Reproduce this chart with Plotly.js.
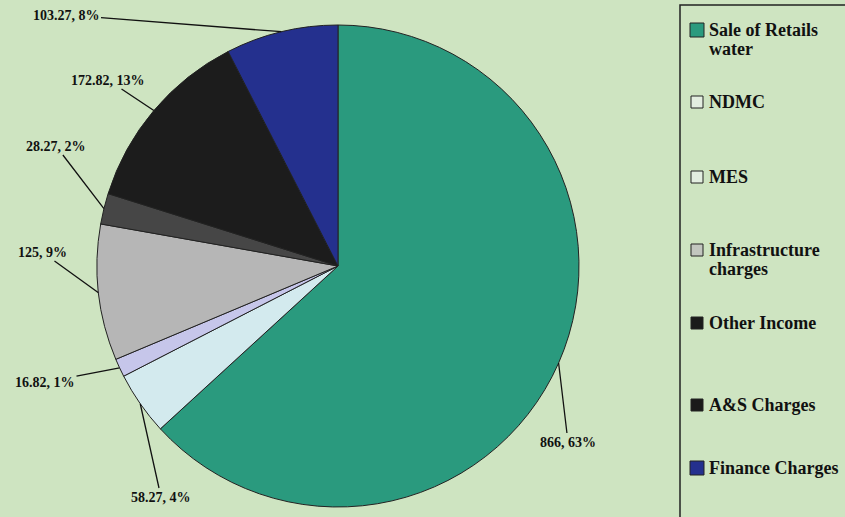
<!DOCTYPE html>
<html>
<head>
<meta charset="utf-8">
<script src="https://cdn.plot.ly/plotly-3.0.1.min.js"></script>
<style>html,body{margin:0;padding:0;background:#cee4c1;}#chart{width:845px;height:517px;}</style>
</head>
<body>
<div id="chart"></div>
<script>
// ---- data ----
const labels = ["Sale of Retails water", "NDMC", "MES", "Infrastructure charges", "Other Income", "A&S Charges", "Finance Charges"];
const legendLines = [["Sale of Retails", "water"], ["NDMC"], ["MES"], ["Infrastructure", "charges"], ["Other Income"], ["A&S Charges"], ["Finance Charges"]];
const values = [866, 58.27, 16.82, 125, 28.27, 172.82, 103.27];
const percents = [63, 4, 1, 9, 2, 13, 8];
const colors = ["#2a9a7e", "#d3eaee", "#c6c6ea", "#b6b6b6", "#464646", "#1c1c1c", "#24308e"];
const swatchColors = ["#2a9a7e", "#e3eee0", "#e3eee0", "#c2c6bf", "#1a1a1a", "#1a1a1a", "#24308e"];

// ---- layout geometry (pixels) ----
const W = 845, H = 517;
const cx = 338, cy = 266, R = 241;
// label centres for each slice
const labelPos = [[568, 442], [161, 497], [45, 382], [42, 252], [56, 146], [108, 80], [66, 15]];
const legendRows = [30, 102, 177, 250, 323, 405, 468];
const lineGap = 19;

const total = values.reduce((a, b) => a + b, 0);
let cum = 0;
const annotations = [];
values.forEach((v, i) => {
  const mid = (cum + v / 2) / total;
  cum += v;
  const a = mid * 2 * Math.PI; // clockwise from 12 o'clock
  const tx = cx + R * Math.sin(a), ty = cy - R * Math.cos(a);
  annotations.push({
    xref: 'x', yref: 'y', axref: 'x', ayref: 'y',
    x: tx, y: ty, ax: labelPos[i][0], ay: labelPos[i][1],
    text: (Number.isInteger(values[i]) ? values[i] : values[i].toFixed(2)) + ', ' + percents[i] + '%',
    showarrow: true, arrowhead: 0, arrowwidth: 1.3, arrowcolor: '#111',
    standoff: 0, startstandoff: 0,
    font: {family: 'Liberation Serif', size: 14, color: '#111', weight: 'bold'},
    bgcolor: 'rgba(0,0,0,0)'
  });
});

const shapes = [{
  type: 'rect', xref: 'x', yref: 'y', x0: 680, x1: 852, y0: 5, y1: 525,
  line: {color: '#222', width: 1.5}, fillcolor: 'rgba(0,0,0,0)'
}];
labels.forEach((l, i) => {
  const y = legendRows[i];
  const s = i === 0 || i === 6 ? 7 : 6;
  shapes.push({
    type: 'rect', xref: 'x', yref: 'y', x0: 697 - s, x1: 697 + s, y0: y - s, y1: y + s,
    line: {color: '#222', width: 1}, fillcolor: swatchColors[i]
  });
  legendLines[i].forEach((t, k) => {
    annotations.push({
      xref: 'x', yref: 'y', x: 707, y: y + k * lineGap, xanchor: 'left', yanchor: 'middle',
      text: t, showarrow: false, align: 'left',
      font: {family: 'Liberation Serif', size: 18, color: '#111', weight: 'bold'}
    });
  });
});

const trace = {
  type: 'pie', labels: labels, values: values, sort: false, direction: 'clockwise', rotation: 0,
  marker: {colors: colors, line: {color: '#222', width: 1}},
  textinfo: 'none', hoverinfo: 'none', showlegend: false,
  domain: {x: [(cx - R) / W, (cx + R) / W], y: [(H - cy - R) / H, (H - cy + R) / H]}
};

const layout = {
  width: W, height: H, margin: {l: 0, r: 0, t: 0, b: 0},
  paper_bgcolor: '#cee4c1', plot_bgcolor: 'rgba(0,0,0,0)',
  xaxis: {range: [0, W], visible: false, fixedrange: true},
  yaxis: {range: [H, 0], visible: false, fixedrange: true},
  showlegend: false, shapes: shapes, annotations: annotations
};

Plotly.newPlot('chart', [trace], layout, {displayModeBar: false, staticPlot: true});
</script>
</body>
</html>
